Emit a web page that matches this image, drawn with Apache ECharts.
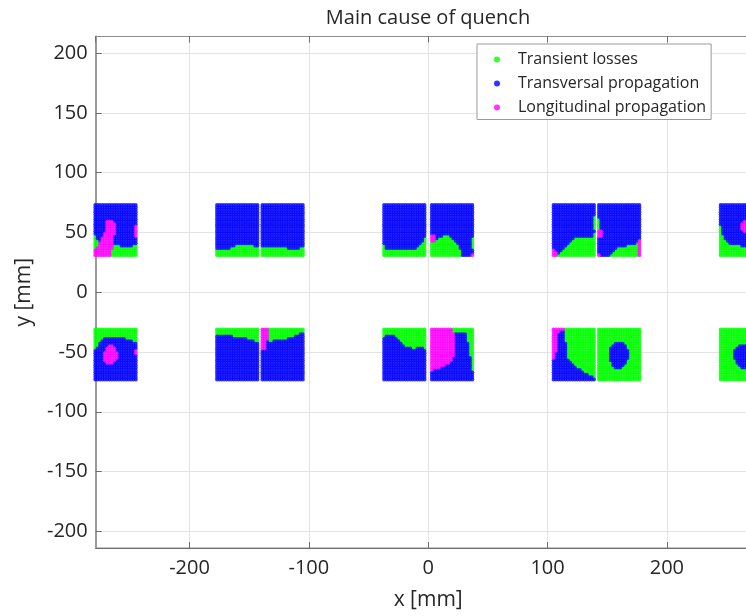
<!DOCTYPE html>
<html>
<head>
<meta charset="utf-8">
<script src="https://cdn.jsdelivr.net/npm/echarts@6/dist/echarts.min.js"></script>
<style>html,body{margin:0;padding:0;background:#fff;overflow:hidden;width:746px;height:616px}#chart{width:780px;height:616px}</style>
</head>
<body>
<div id="chart"></div>
<script>
// ---------------- DATA ----------------
const chartTitle = 'Main cause of quench';
const xAxisName = 'x [mm]';
const yAxisName = 'y [mm]';
const categories = ['Transient losses', 'Transversal propagation', 'Longitudinal propagation'];
const categoryCodes = ['G', 'B', 'M'];          // code used in the maps below for each category
const xTickLabels = [-200, -100, 0, 100, 200];
const yTickLabels = [-200, -150, -100, -50, 0, 50, 100, 150, 200];
const xRange = [-278.6, 278.6];
const yRange = [-214, 214];

// left edge (mm) of each conductor block, same for both rows
const blockLeftX = [-280, -178, -140, -38, 2, 104, 142, 244];
const blockWidth = 36;        // mm
const topRowY = [30, 74];     // mm (bottom, top)
const bottomRowY = [-74, -30];
const sampleStep = 2;         // mm between sampled points

const topRowMaps = [
  [ // block 1
    'BBBBBBBBBBBBBBBBBB','BBBBBBBBBBBBBBBBBB','BBBBBBBBBBBBBBBBBB','BBBBBBBBBBBBBBBBBB',
    'BBBBBBBBBBBBBBBBBB','BBBBBBBBBBBBBBBBBB','BBBBBBBBBBBBBBBBBB','BBBBBMMMBBBBBBBBBB',
    'BBBBBMMMMBBBBBBBBB','BBBBBMMMMBBBBBBBBM','BBBBBMMMMBBBBBBBBM','BBBBBMMMMBBBBBBBBM',
    'BBBBMMMMMBBBBBBBBM','GBBBMMMMBBBBBBBBBM','GBBMMMMMBBBBBBBBBB','GGBMMMMMBBBBBBBBBB',
    'GGMMMMMMBBBBBBBBBB','GGMMMMMMGGGBBBBBGG','GMMMMMMMGGGGGGGGGG','MMMMMMMGGGGGGGGGGG',
    'MMMMMMMGGGGGGGGGGG','MMMMMMMGGGGGGGGGGG'
  ],
  [ // block 2
    'BBBBBBBBBBBBBBBBBB','BBBBBBBBBBBBBBBBBB','BBBBBBBBBBBBBBBBBB','BBBBBBBBBBBBBBBBBB',
    'BBBBBBBBBBBBBBBBBB','BBBBBBBBBBBBBBBBBB','BBBBBBBBBBBBBBBBBB','BBBBBBBBBBBBBBBBBB',
    'BBBBBBBBBBBBBBBBBB','BBBBBBBBBBBBBBBBBB','BBBBBBBBBBBBBBBBBB','BBBBBBBBBBBBBBBBBB',
    'BBBBBBBBBBBBBBBBBB','BBBBBBBBBBBBBBBBBB','BBBBBBBBBBBBBBBBBB','BBBBBBBBBBBBBBBBBB',
    'BBBBBBBBBBBBBBBBBB','BBBBBBBBGGGGGGGGBB','BBBBBBGGGGGGGGGGGG','GGGGGGGGGGGGGGGGGG',
    'GGGGGGGGGGGGGGGGGG','GGGGGGGGGGGGGGGGGG'
  ],
  [ // block 3
    'BBBBBBBBBBBBBBBBBB','BBBBBBBBBBBBBBBBBB','BBBBBBBBBBBBBBBBBB','BBBBBBBBBBBBBBBBBB',
    'BBBBBBBBBBBBBBBBBB','BBBBBBBBBBBBBBBBBB','BBBBBBBBBBBBBBBBBB','BBBBBBBBBBBBBBBBBB',
    'BBBBBBBBBBBBBBBBBB','BBBBBBBBBBBBBBBBBB','BBBBBBBBBBBBBBBBBB','BBBBBBBBBBBBBBBBBB',
    'BBBBBBBBBBBBBBBBBB','BBBBBBBBBBBBBBBBBB','BBBBBBBBBBBBBBBBBB','BBBBBBBBBBBBBBBBBB',
    'BBBBBBBBBBBBBBBBBB','BBBBBBBBBBBBBBBBBB','GGGGGGGGGGGBBBBBGG','GGGGGGGGGGGGGGGGGG',
    'GGGGGGGGGGGGGGGGGG','GGGGGGGGGGGGGGGGGG'
  ],
  [ // block 4
    'BBBBBBBBBBBBBBBBBB','BBBBBBBBBBBBBBBBBB','BBBBBBBBBBBBBBBBBB','BBBBBBBBBBBBBBBBBB',
    'BBBBBBBBBBBBBBBBBB','BBBBBBBBBBBBBBBBBB','BBBBBBBBBBBBBBBBBB','BBBBBBBBBBBBBBBBBB',
    'BBBBBBBBBBBBBBBBBB','BBBBBBBBBBBBBBBBBB','BBBBBBBBBBBBBBBBBB','BBBBBBBBBBBBBBBBBB',
    'BBBBBBBBBBBBBBBBBB','BBBBBBBBBBBBBBBBBB','BBBBBBBBBBBBBBBBBG','BBBBBBBBBBBBBBBBBG',
    'BBBBBBBBBBBBBBBBGG','GBBBBBBBBBBBBBBGGG','GBBBBBBBBBBBBBGGGG','GGGGGGGGGGGGGGGGGG',
    'GGGGGGGGGGGGGGGGGG','GGGGGGGGGGGGGGGGGG'
  ],
  [ // block 5
    'BBBBBBBBBBBBBBBBBB','BBBBBBBBBBBBBBBBBB','BBBBBBBBBBBBBBBBBB','BBBBBBBBBBBBBBBBBB',
    'BBBBBBBBBBBBBBBBBB','BBBBBBBBBBBBBBBBBB','BBBBBBBBBBBBBBBBBB','BBBBBBBBBBBBBBBBBB',
    'BBBBBBBBBBBBBBBBBB','BBBBBBBBBBBBBBBBBB','BBBBBBBBBBBBBBBBBB','BBBBBBBBBBBBBBBBBB',
    'BBBBBBBBBBBBBBBBBB','MMBBBGGGBBBBBBBBBB','MMBGGGGGGBBBBBBBBG','MMGGGGGGGGBBBBBBBG',
    'GGGGGGGGGGGBBBBBBG','GGGGGGGGGGGGBBBBBG','GGGGGGGGGGGGBBBBBG','GGGGGGGGGGGGGBBBBB',
    'GGGGGGGGGGGGGBBBBB','GGGGGGGGGGGGGBBBBM'
  ],
  [ // block 6
    'BBBBBBBBBBBBBBBBBB','BBBBBBBBBBBBBBBBBB','BBBBBBBBBBBBBBBBBB','BBBBBBBBBBBBBBBBBB',
    'BBBBBBBBBBBBBBBBBB','BBBBBBBBBBBBBBBBBG','BBBBBBBBBBBBBBBBBG','BBBBBBBBBBBBBBBBBG',
    'BBBBBBBBBBBBBBBBBG','BBBBBBBBBBBBBBBBBG','BBBBBBBBBBBBBBBBBG','BBBBBBBBBBBBBBBBBB',
    'BBBBBBBBBBBBBBBBBG','BBBBBBBBBBBBBBBBBG','BBBBBBBBBGGGGGGGGG','BBBBBBBBGGGGGGGGGG',
    'BBBBBBBGGGGGGGGGGG','BBBBBBGGGGGGGGGGGG','BBBBBGGGGGGGGGGGGG','MBBBGGGGGGGGGGGGGG',
    'MMBGGGGGGGGGGGGGGG','MMGGGGGGGGGGGGGGGG'
  ],
  [ // block 7
    'BBBBBBBBBBBBBBBBBB','BBBBBBBBBBBBBBBBBB','BBBBBBBBBBBBBBBBBB','BBBBBBBBBBBBBBBBBB',
    'BBBBBBBBBBBBBBBBBB','BBBBBBBBBBBBBBBBBB','GBBBBBBBBBBBBBBBBB','GBBBBBBBBBBBBBBBBB',
    'GBBBBBBBBBBBBBBBBB','GBBBBBBBBBBBBBBBBB','GBBBBBBBBBBBBBBBBB','MMBBBBBBBBBBBBBBBB',
    'MMBBBBBBBBBBBBBBBB','MMBBBBBBBBBBBBBBBB','BBBBBBBBBBBBBBBBBB','BBBBBBBBBBBBBBBBBM',
    'BBBBBBBBBBBBBBBBGM','BBBBBBBBBBBBGGGGGM','BBBBBBBBGGGGGGGGGM','BBBBBBBGGGGGGGGGGM',
    'BBBBBBGGGGGGGGGGGM','MBBBBGGGGGGGGGGGGM'
  ],
  [ // block 8
    'BBBBBBBBBBBBBBBBBB','BBBBBBBBBBBBBBBBBB','BBBBBBBBBBBBBBBBBB','BBBBBBBBBBBBBBBBBB',
    'BBBBBBBBBBBBBBBBBB','BBBBBBBBBBBBBBBBBB','BBBBBBBBBBBBBBBBBB','BBBBBBBBBBMMMBBBBB',
    'BBBBBBBBBMMMMBBBBB','GBBBBBBBBMMMMBBBBB','GBBBBBBBBMMMMBBBBB','GBBBBBBBBBMMBBBBBB',
    'GBBBBBBBBBBBBBBBBB','GGBBBBBBBBBBBBBBBB','GGBBBBBBBBBBBBBBBB','GGGBBBBBBBBBBBBBBB',
    'GGGGBBBBBBBBBBBBBB','GGGGGGGGGBBBBBBBBB','GGGGGGGGGGGGGGGGGG','GGGGGGGGGGGGGGGGGG',
    'GGGGGGGGGGGGGGGGGG','GGGGGGGGGGGGGGGGGG'
  ]
];

const bottomRowMaps = [
  [ // block 1
    'GGGGGGGGGGGGGGGGGG','GGGGGGGGGGGGGGGGGG','GGGGGGGGGGGGGGGGGG','GGGGGGGGGGGGGGGGGG',
    'GGGGBBBBBBBBBGGGGG','GGGBBBBBBBBBBBBBGG','GGBBBBBBBBBBBBBBBB','GGBBBBMMBBBBBBBBBB',
    'GBBBBMMMMBBBBBBBBB','BBBBBMMMMBBBBBBBBM','BBBBMMMMMMBBBBBBBM','BBBBMMMMMMBBBBBBBB',
    'BBBBMMMMMMBBBBBBBB','BBBBMMMMMBBBBBBBBB','BBBBBMMMBBBBBBBBBB','BBBBBBBBBBBBBBBBBB',
    'BBBBBBBBBBBBBBBBBB','BBBBBBBBBBBBBBBBBB','BBBBBBBBBBBBBBBBBB','BBBBBBBBBBBBBBBBBB',
    'BBBBBBBBBBBBBBBBBB','BBBBBBBBBBBBBBBBBB'
  ],
  [ // block 2
    'GGGGGGGGGGGGGGGGGG','GGGGGGGGGGGGGGGGGG','GGGGGGGGGGGGGGGGGG','BBBBBBBGGGGGGGGGGG',
    'BBBBBBBBBBBBBGGGGG','BBBBBBBBBBBBBBBBGG','BBBBBBBBBBBBBBBBBB','BBBBBBBBBBBBBBBBBB',
    'BBBBBBBBBBBBBBBBBB','BBBBBBBBBBBBBBBBBB','BBBBBBBBBBBBBBBBBB','BBBBBBBBBBBBBBBBBB',
    'BBBBBBBBBBBBBBBBBB','BBBBBBBBBBBBBBBBBB','BBBBBBBBBBBBBBBBBB','BBBBBBBBBBBBBBBBBB',
    'BBBBBBBBBBBBBBBBBB','BBBBBBBBBBBBBBBBBB','BBBBBBBBBBBBBBBBBB','BBBBBBBBBBBBBBBBBB',
    'BBBBBBBBBBBBBBBBBB','BBBBBBBBBBBBBBBBBB'
  ],
  [ // block 3
    'MMMGGGGGGGGGGGGGGG','MMMGGGGGGGGGGGGGGG','MMMGGGGGGGGGGGGGBB','MMMGGGGGGGGGGGBBBB',
    'MMMGGGGGGGGBBBBBBB','MMBGGBBBBBBBBBBBBB','MMBBBBBBBBBBBBBBBB','MMBBBBBBBBBBBBBBBB',
    'MMBBBBBBBBBBBBBBBB','BBBBBBBBBBBBBBBBBB','BBBBBBBBBBBBBBBBBB','BBBBBBBBBBBBBBBBBB',
    'BBBBBBBBBBBBBBBBBB','BBBBBBBBBBBBBBBBBB','BBBBBBBBBBBBBBBBBB','BBBBBBBBBBBBBBBBBB',
    'BBBBBBBBBBBBBBBBBB','BBBBBBBBBBBBBBBBBB','BBBBBBBBBBBBBBBBBB','BBBBBBBBBBBBBBBBBB',
    'BBBBBBBBBBBBBBBBBB','BBBBBBBBBBBBBBBBBB'
  ],
  [ // block 4
    'GGGGGGGGGGGGGGGGGG','GGGGGGGGGGGGGGGGGG','GGGGGGGGGGGGGGGGGG','GBBBBGGGGGGGGGGGGG',
    'BBBBBBGGGGGGGGGGGG','BBBBBBBGGGGGGGGGGG','BBBBBBBBGGGGGGGGGG','BBBBBBBBBGGGGGGGGG',
    'BBBBBBBBBBBBGGBBBG','BBBBBBBBBBBBBBBBBB','BBBBBBBBBBBBBBBBBB','BBBBBBBBBBBBBBBBBB',
    'BBBBBBBBBBBBBBBBBB','BBBBBBBBBBBBBBBBBB','BBBBBBBBBBBBBBBBBB','BBBBBBBBBBBBBBBBBB',
    'BBBBBBBBBBBBBBBBBB','BBBBBBBBBBBBBBBBBB','BBBBBBBBBBBBBBBBBB','BBBBBBBBBBBBBBBBBB',
    'BBBBBBBBBBBBBBBBBB','BBBBBBBBBBBBBBBBBB'
  ],
  [ // block 5
    'MMMMMMMMMGGGGGGGGG','MMMMMMMMMGGGGGGGGG','MMMMMMMMMMBBBBBGGG','MMMMMMMMMMBBBBBGGG',
    'MMMMMMMMMMBBBBBGGG','MMMMMMMMMMBBBBBGGG','MMMMMMMMMMBBBBBBGG','MMMMMMMMMMBBBBBBGG',
    'MMMMMMMMMMBBBBBBGG','MMMMMMMMMMBBBBBBGG','MMMMMMMMMMBBBBBBGG','MMMMMMMMMMBBBBBBGG',
    'MMMMMMMMMBBBBBBBBG','MMMMMMMMMBBBBBBBBG','MMMMMMMMBBBBBBBBBG','MMMMMMBBBBBBBBBBBG',
    'MMMMBBBBBBBBBBBBBG','MBBBBBBBBBBBBBBBBG','BBBBBBBBBBBBBBBBBB','BBBBBBBBBBBBBBBBBB',
    'BBBBBBBBBBBBBBBBBB','BBBBBBBBBBBBBBBBBB'
  ],
  [ // block 6
    'MMMMMGGGGGGGGGGGGG','MMMBBGGGGGGGGGGGGG','MMBBBGGGGGGGGGGGGG','MMBBBGGGGGGGGGGGGG',
    'MMBBBGGGGGGGGGGGGG','MMBBBGGGGGGGGGGGGG','MMBBBBGGGGGGGGGGGG','MMBBBBGGGGGGGGGGGG',
    'MMBBBBGGGGGGGGGGGG','MMBBBBGGGGGGGGGGGG','MBBBBBGGGGGGGGGGGG','MBBBBBGGGGGGGGGGGG',
    'MBBBBBGGGGGGGGGGGG','BBBBBBBGGGGGGGGGGG','BBBBBBBBGGGGGGGGGG','BBBBBBBBBGGGGGGGGG',
    'BBBBBBBBBBGGGGGGGG','BBBBBBBBBBBBGGGGGG','BBBBBBBBBBBBBGGGGG','BBBBBBBBBBBBBBBGGG',
    'BBBBBBBBBBBBBBBBBG','BBBBBBBBBBBBBBBBBB'
  ],
  [ // block 7
    'GGGGGGGGGGGGGGGGGG','GGGGGGGGGGGGGGGGGG','GGGGGGGGGGGGGGGGGG','GGGGGGGGGGGGGGGGGG',
    'GGGGGGGGGGGGGGGGGG','GGGGGGGGGGGGGGGGGG','GGGGGGGBBBBGGGGGGG','GGGGGGBBBBBBGGGGGG',
    'GGGGGBBBBBBBGGGGGG','GGGGGBBBBBBBBGGGGG','GGGGGBBBBBBBBGGGGG','GGGGGBBBBBBBBGGGGG',
    'GGGGGBBBBBBBBGGGGG','GGGGGBBBBBBBGGGGGG','GGGGGGBBBBBBGGGGGG','GGGGGGBBBBBGGGGGGG',
    'GGGGGGGBBBGGGGGGGG','GGGGGGGGGGGGGGGGGG','GGGGGGGGGGGGGGGGGG','GGGGGGGGGGGGGGGGGG',
    'GGGGGGGGGGGGGGGGGG','GGGGGGGGGGGGGGGGGG'
  ],
  [ // block 8
    'GGGGGGGGGGGGGGGGGG','GGGGGGGGGGGGGGGGGG','GGGGGGGGGGGGGGGGGG','GGGGGGGGGGGGGGGGGG',
    'GGGGGGGGGGGGGGGGGG','GGGGGGGGGGGGGGGGGG','GGGGGGGGGGGGGGGGGG','GGGGGGGGBBBBGGGGGG',
    'GGGGGGGBBBBBBGGGGG','GGGGGGBBBBBBBBGGGG','GGGGGGBBBBBBBBGGGG','GGGGGGBBBBBBBBGGGG',
    'GGGGGGBBBBBBBBGGGG','GGGGGGGBBBBBBGGGGG','GGGGGGGBBBBBBGGGGG','GGGGGGGGBBBBGGGGGG',
    'GGGGGGGGGBBGGGGGGG','GGGGGGGGGGGGGGGGGG','GGGGGGGGGGGGGGGGGG','GGGGGGGGGGGGGGGGGG',
    'GGGGGGGGGGGGGGGGGG','GGGGGGGGGGGGGGGGGG'
  ]
];

// ---------------- BUILD SERIES DATA FROM THE MAPS ----------------
function collectPoints(maps, rowY, out) {
  maps.forEach(function (rows, b) {
    const x0 = blockLeftX[b];
    rows.forEach(function (row, r) {
      const y = rowY[1] - sampleStep / 2 - r * sampleStep;
      for (let c = 0; c < row.length; c++) {
        const k = categoryCodes.indexOf(row[c]);
        if (k >= 0) out[k].push([x0 + sampleStep / 2 + c * sampleStep, y]);
      }
    });
  });
}
const seriesData = categories.map(function () { return []; });
collectPoints(topRowMaps, topRowY, seriesData);
collectPoints(bottomRowMaps, bottomRowY, seriesData);

// ---------------- CHART ----------------
const FONT = 'Open Sans';
const TEXT = '#262626';
const AXIS = '#6e6e6e';
const GRIDLINE = '#e3e3e3';
const COLORS = ['#00ff00', '#0000ff', '#ff00ff'];

const chart = echarts.init(document.getElementById('chart'), null, { renderer: 'canvas', width: 780, height: 616 });

const commonTick = { show: true, inside: true, length: 6, lineStyle: { color: AXIS, width: 1 } };

chart.setOption({
  animation: false,
  backgroundColor: '#ffffff',
  title: {
    text: chartTitle, left: 423, top: 3, textAlign: 'center',
    textStyle: { fontFamily: FONT, fontSize: 20, fontWeight: 'normal', color: TEXT }
  },
  grid: {
    left: 95.7, top: 36.5, width: 665, height: 512,
    show: true, borderColor: '#8c8c8c', borderWidth: 1, backgroundColor: 'rgba(0,0,0,0)'
  },
  legend: {
    data: categories, orient: 'vertical', left: 477, top: 44,
    padding: [7.5, 5, 4, 17], itemWidth: 32, itemHeight: 6, itemGap: 8, icon: 'circle',
    backgroundColor: '#ffffff', borderColor: '#9a9a9a', borderWidth: 1, borderRadius: 0,
    textStyle: { fontFamily: FONT, fontSize: 16, color: TEXT, lineHeight: 16 }
  },
  xAxis: [{
    type: 'value', min: xRange[0], max: xRange[1], splitNumber: 6, minInterval: 100, maxInterval: 100,
    position: 'bottom',
    name: xAxisName, nameLocation: 'middle', nameGap: 42,
    nameTextStyle: { fontFamily: FONT, fontSize: 21, color: TEXT },
    axisLine: { show: true, onZero: false, lineStyle: { color: AXIS, width: 1 } },
    axisTick: commonTick,
    axisLabel: {
      fontFamily: FONT, fontSize: 20, color: TEXT, margin: 10, showMinLabel: false, showMaxLabel: false,
      formatter: function (v) { return xTickLabels.indexOf(Math.round(v)) >= 0 && Math.abs(v - Math.round(v)) < 1e-6 ? String(Math.round(v)) : ''; }
    },
    splitLine: { show: true, lineStyle: { color: GRIDLINE, width: 1 } }
  }, {
    type: 'value', min: xRange[0], max: xRange[1], splitNumber: 6, minInterval: 100, maxInterval: 100,
    position: 'top',
    axisLine: { show: true, onZero: false, lineStyle: { color: '#8c8c8c', width: 1 } },
    axisTick: commonTick, axisLabel: { show: false }, splitLine: { show: false }
  }],
  yAxis: [{
    type: 'value', min: yRange[0], max: yRange[1], splitNumber: 9, minInterval: 50, maxInterval: 50,
    position: 'left',
    name: yAxisName, nameLocation: 'middle', nameGap: 61, nameRotate: 90,
    nameTextStyle: { fontFamily: FONT, fontSize: 21, color: TEXT },
    axisLine: { show: true, onZero: false, lineStyle: { color: '#9a9a9a', width: 2 } },
    axisTick: commonTick,
    axisLabel: {
      fontFamily: FONT, fontSize: 20, color: TEXT, margin: 8, showMinLabel: false, showMaxLabel: false,
      formatter: function (v) { return yTickLabels.indexOf(Math.round(v)) >= 0 && Math.abs(v - Math.round(v)) < 1e-6 ? String(Math.round(v)) : ''; }
    },
    splitLine: { show: true, lineStyle: { color: GRIDLINE, width: 1 } }
  }],
  series: categories.map(function (name, i) {
    return {
      name: name, type: 'scatter', xAxisIndex: 0, yAxisIndex: 0,
      data: seriesData[i], symbol: 'circle', symbolSize: 3.8,
      itemStyle: { color: COLORS[i] }, clip: false, silent: true, large: false
    };
  })
});
</script>
</body>
</html>
